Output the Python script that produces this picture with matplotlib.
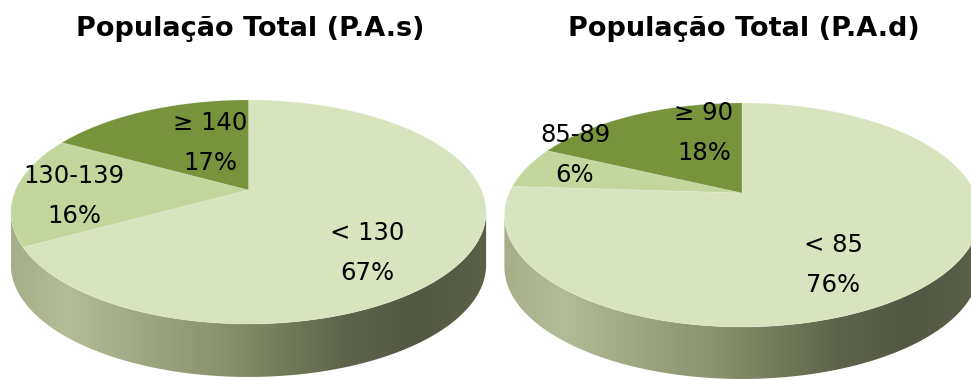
import numpy as np
import matplotlib
matplotlib.use("Agg")
import matplotlib.pyplot as plt
from matplotlib.patches import Polygon
from matplotlib.colors import LinearSegmentedColormap

# ---- data -------------------------------------------------------------
titles = ["População Total (P.A.s)", "População Total (P.A.d)"]
sys_labels = ["< 130", "130-139", "≥ 140"]
sys_values = [67, 16, 17]
dia_labels = ["< 85", "85-89", "≥ 90"]
dia_values = [76, 6, 18]

# ---- style ------------------------------------------------------------
slice_colors = ["#D7E4BD", "#C3D69B", "#77933C"]
side_stops = [(0.00, "#A6AF88"), (0.12, "#B2BC96"), (0.45, "#88916C"),
              (0.70, "#5E644C"), (0.85, "#525843"), (1.00, "#5A604A")]
side_cmap = LinearSegmentedColormap.from_list("side", side_stops)

W, H = 971, 380
fig = plt.figure(figsize=(W / 100, H / 100), dpi=100)
ax = fig.add_axes([0, 0, 1, 1])
ax.set_xlim(0, W)
ax.set_ylim(H, 0)
ax.axis("off")

# pie geometry (pixel units): centre, radius, vertical scale, perspective, depth
pies = [
    dict(cx=248.5, cy=190, r=233, s=107.7, p=0.196, h=53),
    dict(cx=742.0, cy=193, r=233, s=107.7, p=0.196, h=52),
]
# label centres (pixel units), one per slice
label_pos = [
    [(367, 253), (74, 196), (210, 143)],
    [(833, 265), (575, 155), (704, 133)],
]


def project(theta, g):
    X, Y = np.cos(theta), np.sin(theta)
    w = 1 + g["p"] * Y
    return g["cx"] + g["r"] * X / w, g["cy"] - g["s"] * Y / w


def draw_pie(values, labels, g, lpos, title):
    a = np.arcsin(g["p"])
    # cylinder side on the visible front half
    t = np.linspace(np.pi + a, 2 * np.pi - a, 300)
    xs, ys = project(t, g)
    side_xy = np.concatenate([np.column_stack([xs, ys]),
                              np.column_stack([xs[::-1], ys[::-1] + g["h"]])])
    side = Polygon(side_xy, closed=True, facecolor="none", edgecolor="none")
    ax.add_patch(side)
    grad = np.linspace(0, 1, 256)[None, :]
    im = ax.imshow(grad, cmap=side_cmap, aspect="auto",
                   extent=(xs.min(), xs.max(), ys.max() + g["h"], ys.min()),
                   interpolation="bilinear")
    im.set_clip_path(side)

    # top surface slices, clockwise from 12 o'clock
    total = float(sum(values))
    start = np.pi / 2
    for v, c in zip(values, slice_colors):
        sweep = 2 * np.pi * v / total
        tt = np.linspace(start, start - sweep, 200)
        px, py = project(tt, g)
        xy = np.vstack([[g["cx"], g["cy"]], np.column_stack([px, py])])
        ax.add_patch(Polygon(xy, closed=True, facecolor=c,
                             edgecolor=(1, 1, 1, 0.2), linewidth=0.6))
        start -= sweep

    for v, lab, (lx, ly) in zip(values, labels, lpos):
        pct = f"{round(100 * v / total):d}%"
        ax.text(lx, ly - 20, lab, ha="center", va="center",
                fontsize=17.5, color="black", family="DejaVu Sans")
        ax.text(lx, ly + 20, pct, ha="center", va="center",
                fontsize=17.5, color="black", family="DejaVu Sans")

    ax.text(g["cx"] + 2, 36, title, ha="center", va="baseline",
            fontsize=19.5, fontweight="bold", color="black",
            family="DejaVu Sans")


draw_pie(sys_values, sys_labels, pies[0], label_pos[0], titles[0])
draw_pie(dia_values, dia_labels, pies[1], label_pos[1], titles[1])

fig.savefig("out.png", dpi=100, facecolor="white")
